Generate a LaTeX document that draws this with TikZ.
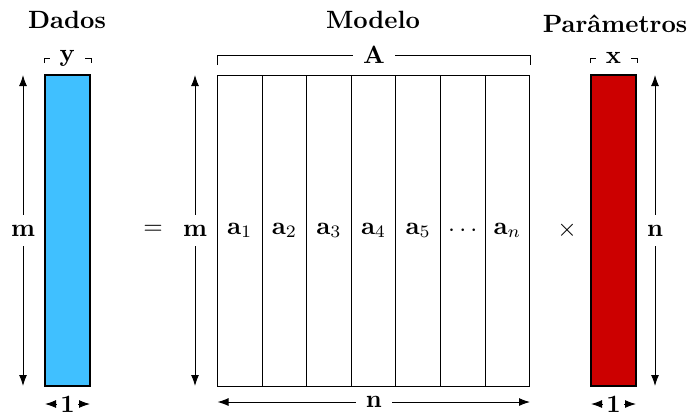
\documentclass[tikz,border=0pt]{standalone}
\usetikzlibrary{arrows.meta}
\definecolor{databar}{RGB}{64,192,255}
\definecolor{parbar}{RGB}{204,0,0}
\begin{document}
\begin{tikzpicture}[x=0.4pt,y=-0.4pt,
  bar/.style={draw=black,line width=0.45pt,minimum width=18pt,minimum height=124.4pt,inner sep=0pt},
  colbox/.style={draw=black,line width=0.4pt,minimum width=17.84pt,minimum height=124.4pt,inner sep=0pt},
  dimarrow/.style={line width=0.4pt,{Latex[length=4.4pt,width=3.2pt]}-{Latex[length=4.4pt,width=3.2pt]}},
  brack/.style={line width=0.4pt},
  lab/.style={fill=white,inner sep=4pt},
  hlab/.style={fill=white,inner xsep=4pt,inner ysep=0.5pt},
  onelab/.style={fill=white,inner xsep=1.2pt,inner ysep=0pt},
  title/.style={font=\bfseries,anchor=base}]
\useasboundingbox (0,0) rectangle (690,414);
% titles
\node[title] (tdados) at (67,28) {Dados};
\node[title] (tmodelo) at (373,28) {Modelo};
\node[title] (tpar) at (615,32) {Parâmetros};
% y: m arrow
\coordinate (ymt) at (23,75);
\coordinate (ymb) at (23,386);
\draw[dimarrow] (ymt) -- node[lab] (ym) {$\mathbf{m}$} (ymb);
% A: m arrow
\coordinate (amt) at (195,75);
\coordinate (amb) at (195,386);
\draw[dimarrow] (amt) -- node[lab] (am) {$\mathbf{m}$} (amb);
% x: n arrow
\coordinate (xnt) at (655,75);
\coordinate (xnb) at (655,386);
\draw[dimarrow] (xnt) -- node[lab] (xn) {$\mathbf{n}$} (xnb);
% A: n arrow
\coordinate (anl) at (217.5,402);
\coordinate (anr) at (530,402);
\draw[dimarrow] (anl) -- node[hlab] (an) {$\mathbf{n}$} (anr);
% 1 arrows
\coordinate (y1l) at (45,404);
\coordinate (y1r) at (90,404);
\draw[dimarrow] (y1l) -- node[onelab] (y1) {$\mathbf{1}$} (y1r);
\coordinate (x1l) at (591,404);
\coordinate (x1r) at (636,404);
\draw[dimarrow] (x1l) -- node[onelab] (x1) {$\mathbf{1}$} (x1r);
% brackets
\coordinate (ybl) at (44,63);
\coordinate (ybr) at (91,63);
\draw[brack] (ybl) -- ++(0,-5) -| node[pos=0.25,hlab] (ylab) {$\mathbf{y}$} (ybr);
\coordinate (xbl) at (590,63);
\coordinate (xbr) at (637,63);
\draw[brack] (xbl) -- ++(0,-5) -| node[pos=0.25,hlab] (xlab) {$\mathbf{x}$} (xbr);
\coordinate (abl) at (217.5,65);
\coordinate (abr) at (530.5,65);
\draw[brack] (abl) -- ++(0,-10) -| node[pos=0.25,hlab] (alab) {$\mathbf{A}$} (abr);
% bars
\node[bar,fill=databar] (ybar) at (67.5,230.5) {};
\node[bar,fill=parbar] (xbar) at (613.5,230.5) {};
% matrix columns
\foreach \i/\t in {1/{\mathbf{a}_1},2/{\mathbf{a}_2},3/{\mathbf{a}_3},4/{\mathbf{a}_4},5/{\mathbf{a}_5},6/{\cdots},7/{\mathbf{a}_n}}{
  \node[colbox] (c\i) at ({217.5+44.6*(\i-0.5)},230.5) {$\t$};
}
% operators
\node (eq) at (153,230) {$=$};
\node (times) at (567,230) {$\times$};
\end{tikzpicture}
\end{document}
